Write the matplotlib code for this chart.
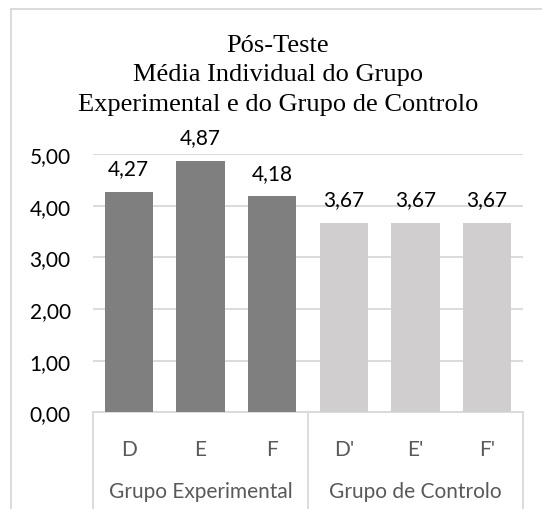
import matplotlib
matplotlib.use("Agg")
import matplotlib.pyplot as plt
import matplotlib.transforms as mtransforms
from matplotlib.lines import Line2D

categories = ["D", "E", "F", "D'", "E'", "F'"]
values = [4.27, 4.87, 4.18, 3.67, 3.67, 3.67]
groups = ["Grupo Experimental", "Grupo de Controlo"]
group_sizes = [3, 3]
title_lines = ["Pós-Teste", "Média Individual do Grupo",
               "Experimental e do Grupo de Controlo"]
yticks = [0, 1, 2, 3, 4, 5]

dark = "#7F7F7F"
light = "#D0CECE"
grid_c = "#D9D9D9"
label_c = "#595959"
sans = ["Lato", "DejaVu Sans"]

W, H = 542, 510
fig = plt.figure(figsize=(W / 100, H / 100), dpi=100)

# plot area in pixels
x0, x1 = 93, 523
y_top, y_bot = 155, 413.3
ax = fig.add_axes([x0 / W, 1 - y_bot / H, (x1 - x0) / W, (y_bot - y_top) / H])

colors = [dark] * group_sizes[0] + [light] * group_sizes[1]
xs = list(range(len(categories)))
bars = ax.bar(xs, values, width=0.67, color=colors, zorder=3)

for b, v in zip(bars, values):
    ax.annotate(f"{v:.2f}".replace(".", ","), (b.get_x() + b.get_width() / 2, v),
                xytext=(0, 17), textcoords="offset points", ha="center", va="center",
                fontsize=15, family=sans, color="#000000")

ax.set_xlim(-0.5, len(categories) - 0.5)
ax.set_ylim(0, 5)
ax.set_yticks(yticks)
ax.set_yticklabels([f"{t:.2f}".replace(".", ",") for t in yticks],
                   fontsize=15, family=sans, color="#000000")
ax.yaxis.grid(True, color=grid_c, linewidth=1.3, zorder=0)
ax.set_axisbelow(True)
ax.tick_params(axis="y", length=0, pad=16)
ax.tick_params(axis="x", length=0, pad=19)
ax.set_xticks(xs)
ax.set_xticklabels(categories, fontsize=15, family=sans, color=label_c)
for s in ax.spines.values():
    s.set_visible(False)

# category axis box
trans = mtransforms.blended_transform_factory(ax.transData, ax.transAxes)
drop = -1.0
bounds = [-0.5]
acc = -0.5
for g in group_sizes:
    acc += g
    bounds.append(acc)
for bx in bounds:
    ax.plot([bx, bx], [0, drop], transform=trans, color=grid_c, lw=1.3, clip_on=False)
ax.plot([-0.5, len(categories) - 0.5], [0, 0], transform=trans, color=grid_c,
        lw=1.3, clip_on=False)
for i, (g, n) in enumerate(zip(groups, group_sizes)):
    cx = (bounds[i] + bounds[i + 1]) / 2
    ax.text(cx, -(492 - y_bot) / (y_bot - y_top), g, transform=trans, ha="center",
            va="center", fontsize=15, family=sans, color=label_c)

# title
for i, line in enumerate(title_lines):
    fig.text(278 / W, 1 - (46 + i * 29.5) / H, line, ha="center", va="center",
             fontsize=19, family=["Liberation Serif", "DejaVu Serif"], color="#000000")

# outer chart border (cropped on right and bottom)
fig.add_artist(Line2D([11 / W, 1.0], [1 - 10 / H, 1 - 10 / H], color=grid_c, lw=1.3))
fig.add_artist(Line2D([11 / W, 11 / W], [0.0, 1 - 10 / H], color=grid_c, lw=1.3))

fig.savefig("out.png", dpi=100, facecolor="white")
